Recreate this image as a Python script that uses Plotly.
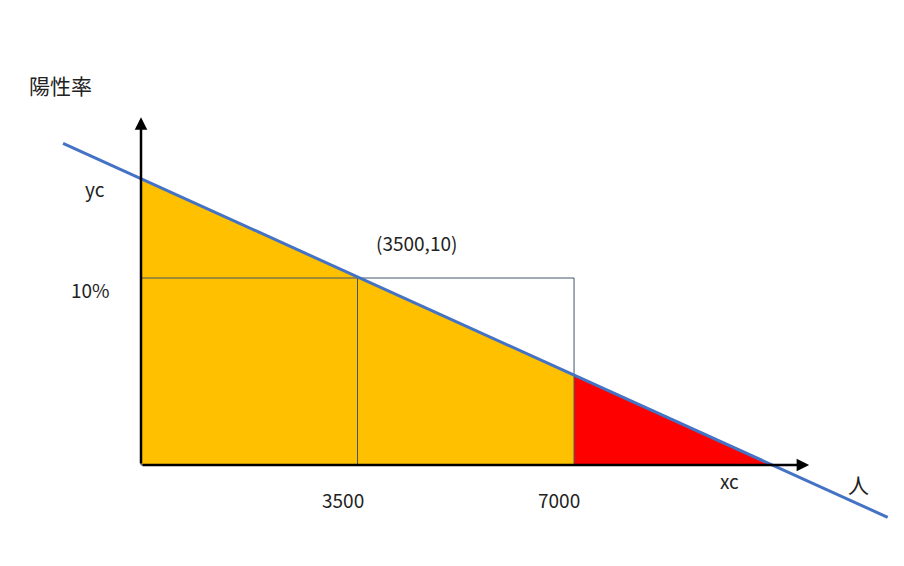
import plotly.graph_objects as go

# data (units: people on x, % on y)
line_x = [-1260, 12070]
line_y = [17.2, -2.8]
orange_x = [0, 0, 3500, 7000, 7000]
orange_y = [0, 15.3, 10.05, 4.8, 0]
red_x = [7000, 7000, 10200]
red_y = [0, 4.8, 0]
box_x = [0, 7000, 7000, 0, 0]
box_y = [0, 0, 10, 10, 0]
mid_x = [3500, 3500]
mid_y = [0, 10]

FONT = "Noto Sans CJK JP"

fig = go.Figure()
fig.add_trace(go.Scatter(x=orange_x, y=orange_y, fill="toself", fillcolor="#FFC000",
                         line=dict(width=0), mode="lines"))
fig.add_trace(go.Scatter(x=red_x, y=red_y, fill="toself", fillcolor="#FF0000",
                         line=dict(width=0), mode="lines"))
fig.add_trace(go.Scatter(x=box_x, y=box_y, mode="lines", line=dict(color="#44546A", width=1)))
fig.add_trace(go.Scatter(x=mid_x, y=mid_y, mode="lines", line=dict(color="#44546A", width=1)))
fig.add_trace(go.Scatter(x=line_x, y=line_y, mode="lines", line=dict(color="#4472C4", width=3)))

# axes arrows
for ax, ay, x, y in [(0, 0, 10800, 0), (0, 0, 0, 18.6)]:
    fig.add_annotation(x=x, y=y, ax=ax, ay=ay, xref="x", yref="y", axref="x", ayref="y",
                       showarrow=True, arrowhead=2, arrowsize=1, arrowwidth=2.5,
                       arrowcolor="black", text="")

labels = [
    ("陽性率", -1300, 20.3, 21),
    ("yc", -750, 14.8, 19),
    ("10%", -820, 9.4, 19),
    ("(3500,10)", 4450, 11.9, 19),
    ("3500", 3270, -1.85, 19),
    ("7000", 6760, -1.85, 19),
    ("xc", 9520, -0.85, 19),
    ("人", 11600, -1.0, 21),
]
for t, x, y, s in labels:
    fig.add_annotation(x=x, y=y, text=t, showarrow=False, xref="x", yref="y",
                       font=dict(family=FONT, size=s, color="#222222"))

fig.update_xaxes(range=[-2150, 12463], visible=False)
fig.update_yaxes(range=[-5.83, 24.44], visible=False)
fig.update_layout(width=904, height=566, margin=dict(l=0, r=0, t=0, b=0),
                  plot_bgcolor="white", paper_bgcolor="white", showlegend=False)
fig.write_html("out.html")
